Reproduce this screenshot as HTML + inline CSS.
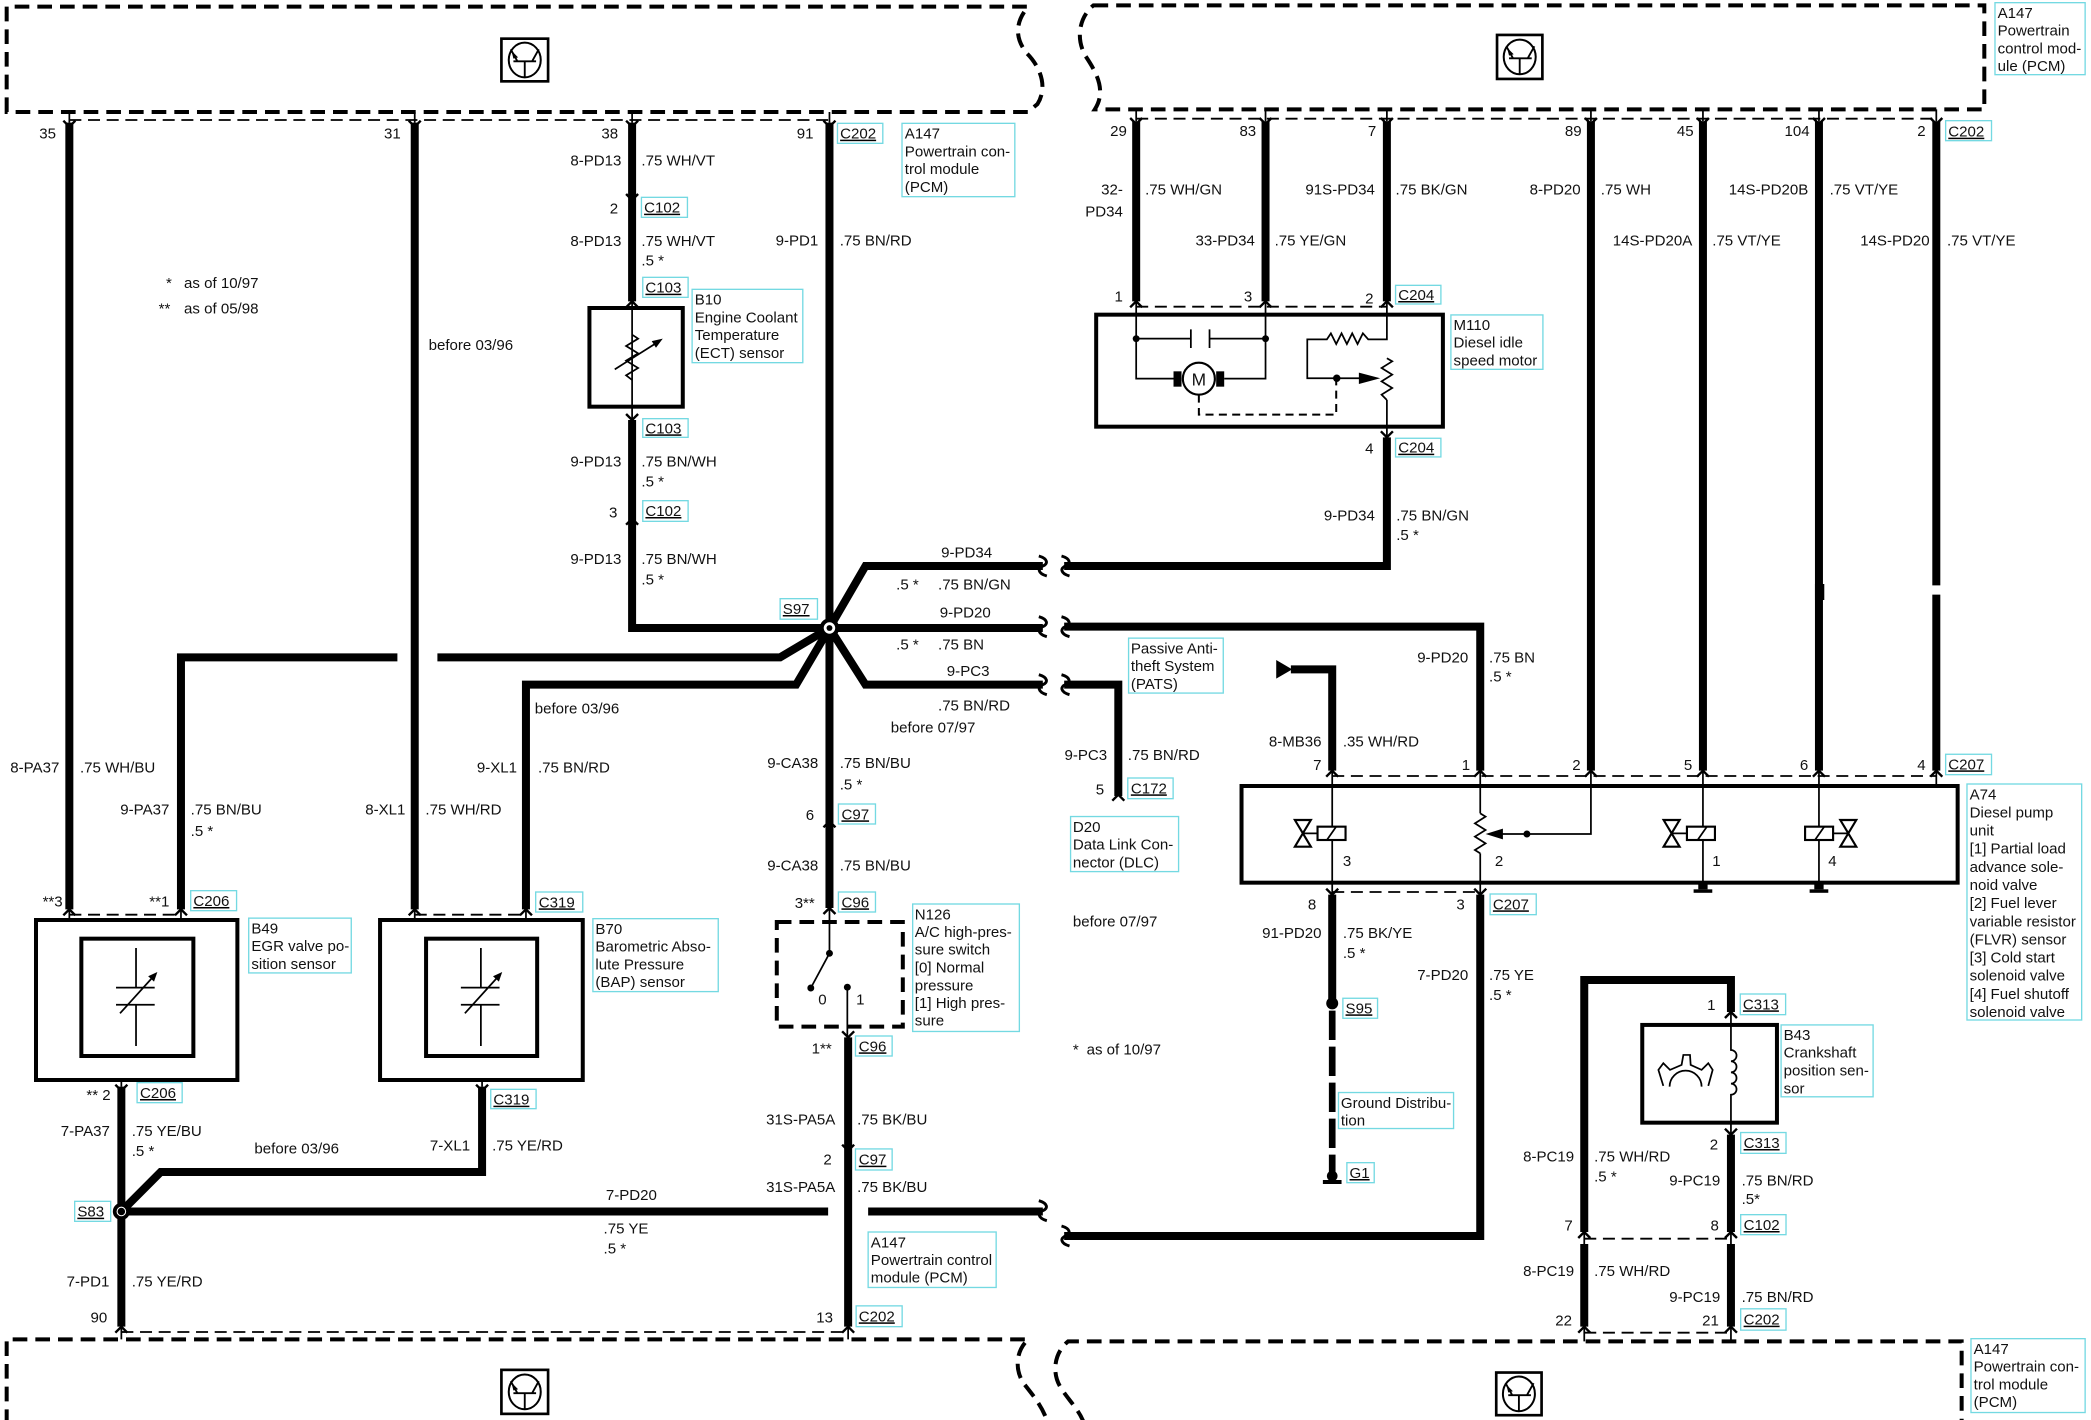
<!DOCTYPE html>
<html><head><meta charset="utf-8">
<style>
html,body{margin:0;padding:0;background:#fff;}
svg{display:block;}
text{font-family:"Liberation Sans",Arial,sans-serif;font-size:11.3px;fill:#111;}
.e{text-anchor:end;}
.u{text-decoration:underline;}
.w{stroke:#000;stroke-width:6;fill:none;}
.t{stroke:#000;stroke-width:1.3;fill:none;}
.bx{stroke:#000;stroke-width:3;fill:none;}
.dsh{stroke:#000;stroke-width:3;fill:none;stroke-dasharray:11 6;}
.thd{stroke:#000;stroke-width:1.4;fill:none;stroke-dasharray:9 5;}
.lb{stroke:#74d9e2;stroke-width:1;fill:none;}
.ch{stroke:#000;stroke-width:1.8;fill:none;}
.br{stroke:#000;stroke-width:2.2;fill:none;}
.f{fill:#000;stroke:none;}
.tw{stroke:#000;stroke-width:1.6;fill:#fff;}
</style></head><body>
<svg width="2091" height="1420" viewBox="0 0 1568 1065" preserveAspectRatio="none" xmlns="http://www.w3.org/2000/svg">
<rect x="0" y="0" width="1568" height="1065" fill="#fff"/>

<!-- PCM module boxes -->
<path class="dsh" d="M5,84 L5,5 L771,5 C760,18 762,30 770,40 C780,50 786,65 778,78 L771,84 Z"/>
<path class="dsh" d="M820,4 L1488,4 L1488,82 L821,82 C830,68 822,54 814,42 C806,28 810,12 820,4 Z"/>
<path class="dsh" d="M5,1068 L5,1004.5 L771,1004.5 C760,1015 762,1030 768,1038 C775,1047 782,1055 786,1068"/>
<path class="dsh" d="M813,1068 C810,1058 801,1050 795,1040 C789,1030 790,1015 801,1006 L1471,1006 L1471,1068"/>

<!-- thin dashed connector lines -->
<path class="thd" d="M52,90 H622"/>
<path class="thd" d="M852,89 H1452"/>
<path class="thd" d="M91,999 H636"/>
<path class="thd" d="M1188,999.5 H1298"/>
<path class="thd" d="M52,686 H136"/>
<path class="thd" d="M311,686 H394"/>
<path class="thd" d="M852,230 H1040"/>
<path class="thd" d="M999,582 H1452"/>
<path class="thd" d="M999,669 H1110"/>
<path class="thd" d="M1188,929 H1298"/>

<!-- transistor icons -->
<g transform="translate(376,29)">
<rect x="0" y="0" width="35" height="32" stroke="#000" stroke-width="2" fill="none"/>
<ellipse cx="17.5" cy="16" rx="12" ry="13" stroke="#000" stroke-width="1.5" fill="none"/>
<path d="M9,17 H26 M17.5,17 V29 M12,17 L7,8 M23,17 L28,8" stroke="#000" stroke-width="1.4" fill="none"/>
<path d="M7.5,9 L12.5,14 L9,15 Z" fill="#000"/>
</g>
<g transform="translate(1122.6,26.2)">
<rect x="0" y="0" width="34" height="33" stroke="#000" stroke-width="2" fill="none"/>
<ellipse cx="17" cy="16.5" rx="12" ry="13" stroke="#000" stroke-width="1.5" fill="none"/>
<path d="M9,17.5 H26 M17,17.5 V29.5 M12,17.5 L7,8.5 M23,17.5 L28,8.5" stroke="#000" stroke-width="1.4" fill="none"/>
<path d="M7.5,9.5 L12.5,14.5 L9,15.5 Z" fill="#000"/>
</g>
<g transform="translate(376,1027.4)">
<rect x="0" y="0" width="35" height="33" stroke="#000" stroke-width="2" fill="none"/>
<ellipse cx="17.5" cy="16.5" rx="12" ry="13" stroke="#000" stroke-width="1.5" fill="none"/>
<path d="M9,17.5 H26 M17.5,17.5 V29.5 M12,17.5 L7,8.5 M23,17.5 L28,8.5" stroke="#000" stroke-width="1.4" fill="none"/>
<path d="M7.5,9.5 L12.5,14.5 L9,15.5 Z" fill="#000"/>
</g>
<g transform="translate(1122,1029.4)">
<rect x="0" y="0" width="34" height="32" stroke="#000" stroke-width="2" fill="none"/>
<ellipse cx="17" cy="16" rx="12" ry="13" stroke="#000" stroke-width="1.5" fill="none"/>
<path d="M9,17 H26 M17,17 V29 M12,17 L7,8 M23,17 L28,8" stroke="#000" stroke-width="1.4" fill="none"/>
<path d="M7.5,9 L12.5,14 L9,15 Z" fill="#000"/>
</g>

<!-- thin stubs to module edges -->
<path class="t" d="M52,84 V92 M311,84 V92 M474,84 V92 M622,84 V92 M852,82 V91 M949,82 V91 M1040,82 V91 M1193,82 V91 M1277,82 V91 M1364,82 V91 M1452,82 V91 M91,995 V1004.5 M636,995 V1004.5 M1188,995 V1006 M1298,995 V1006"/>

<!-- ===== LEFT WIRES ===== -->
<path class="w" d="M52,92 V682"/>
<path class="t" d="M52,682 V690 M135.7,682 V690 M311,682 V690 M394.4,682 V690"/>
<path class="w" d="M311,92 V682"/>
<path class="w" d="M474,92 V226"/>
<path class="t" d="M474,226 V315"/>
<path class="w" d="M474,315 V471 H622"/>
<path class="w" d="M622,92 V681"/>
<path class="t" d="M622,681 V715"/>

<!-- S97 branches -->
<path class="w" d="M622,471 L649,424.5 H782"/>
<path class="w" d="M622,471 H782"/>
<path class="w" d="M622,471 L649,513.5 H782"/>
<path class="w" d="M622,471 L585,493 H328"/>
<path class="w" d="M298,493 H135.7 V682"/>
<path class="w" d="M622,471 L597,513.5 H394.4 V682"/>

<!-- break symbols -->
<path class="br" d="M779,417 C786,419 786,423 782,424.5 C778,426 778,430 785,432"/>
<path class="br" d="M796,417 C803,419 803,423 799,424.5 C795,426 795,430 802,432"/>
<path class="br" d="M779,462.5 C786,464.5 786,468.5 782,470 C778,471.5 778,475.5 785,477.5"/>
<path class="br" d="M796,462.5 C803,464.5 803,468.5 799,470 C795,471.5 795,475.5 802,477.5"/>
<path class="br" d="M779,506 C786,508 786,512 782,513.5 C778,515 778,519 785,521"/>
<path class="br" d="M796,506 C803,508 803,512 799,513.5 C795,515 795,519 802,521"/>
<path class="br" d="M779,900.5 C786,902.5 786,906.5 782,908 C778,909.5 778,913.5 785,915.5"/>
<path class="br" d="M796,919.5 C803,921.5 803,925.5 799,927 C795,928.5 795,932.5 802,934.5"/>

<!-- right side of breaks -->
<path class="w" d="M798,424.5 H1040 V328"/>
<path class="t" d="M1040,300 V328"/>
<path class="w" d="M798,470 H1110 V578"/>
<path class="w" d="M798,513.5 H838.6 V597"/>
<path class="w" d="M798,927 H1110 V671"/>

<!-- S97 splice -->
<circle cx="622" cy="471" r="5.8" fill="#fff" stroke="#000" stroke-width="3"/>
<circle cx="622" cy="471" r="2.2" class="f"/>

<!-- N126 switch -->
<rect x="582.5" y="691.5" width="94.5" height="78.5" class="dsh"/>
<circle cx="622" cy="715" r="2.6" class="f"/>
<path class="t" d="M622,715 L608,741" stroke-width="1.6"/>
<circle cx="608" cy="741" r="2.6" class="f"/>
<circle cx="635.4" cy="740.4" r="2.6" class="f"/>
<path class="t" d="M635.4,740.4 V779"/>
<path class="w" d="M636,778 V995"/>

<!-- S83 area -->
<path class="w" d="M91,815 V995"/>
<path class="w" d="M361.5,815 V879 H120.5 L91,908.6"/>
<path class="w" d="M91,908.6 H621"/>
<path class="w" d="M651,908.6 H782"/>
<path class="t" d="M91,810 V815 M361.5,810 V815"/>
<circle cx="91" cy="908.6" r="5" fill="#fff" stroke="#000" stroke-width="2.8"/>
<circle cx="91" cy="908.6" r="2.8" class="f"/>

<!-- B10 -->
<rect x="442" y="231" width="70" height="74" class="bx"/>
<polyline class="t" points="474,251 478.5,254 469.5,259.5 478.5,265 469.5,270.5 478.5,276 469.5,281.5 474,285" fill="#fff" stroke-width="1.6"/>
<path class="t" d="M461,277 L491,258" stroke-width="1.6"/>
<path d="M497,254 L491.9,260.8 L488.7,255.8 Z" class="f"/>

<!-- B49 -->
<rect x="27" y="690" width="151" height="120" class="bx"/>
<rect x="61" y="704" width="84" height="88" class="bx"/>
<path class="t" d="M102,711 V740.7 M102,753.6 V784.5 M87,740.7 H116 M87,753.6 H116" stroke-width="1.8"/>
<path class="t" d="M90,760 L114,733.5" stroke-width="1.8"/>
<path d="M118,729 L115.5,736.2 L111.1,732.2 Z" class="f"/>
<!-- B70 -->
<rect x="285" y="690" width="152" height="120" class="bx"/>
<rect x="319.5" y="704" width="83.3" height="88" class="bx"/>
<path class="t" d="M360.6,711 V740.7 M360.6,753.6 V784.5 M345.6,740.7 H374.6 M345.6,753.6 H374.6" stroke-width="1.8"/>
<path class="t" d="M348.6,760 L372.6,733.5" stroke-width="1.8"/>
<path d="M376.6,729 L374.1,736.2 L369.7,732.2 Z" class="f"/>

<!-- ===== M110 ===== -->
<path class="w" d="M852,91 V226"/>
<path class="w" d="M949,91 V226"/>
<path class="w" d="M1040,91 V226"/>
<rect x="822" y="236" width="260" height="84" class="bx"/>
<path class="t" d="M852,226 V284 H881 M949,226 V284 H918 M852,254 H893 M907,254 H949" stroke-width="1.4"/>
<path class="t" d="M893,247 V261 M907,247 V261" stroke-width="2"/>
<circle cx="852" cy="254" r="2.6" class="f"/>
<circle cx="949" cy="254" r="2.6" class="f"/>
<circle cx="899" cy="284" r="12" fill="#fff" stroke="#000" stroke-width="1.6"/>
<rect x="880" y="278.5" width="6" height="11.5" class="f"/>
<rect x="912" y="278.5" width="6" height="11.5" class="f"/>
<text x="899" y="289" text-anchor="middle" style="font-size:13px">M</text>
<path d="M899,296 V311 H1002 V284" stroke="#000" stroke-width="1.5" fill="none" stroke-dasharray="6 4"/>
<path class="t" d="M1040,226 V254.5 H1026 L1022,250 L1018,258 L1014,250 L1010,258 L1006,250 L1002,258 L998,250 L995,254.5 H980.3 V283.7 H1020" stroke-width="1.4"/>
<path d="M1035,283.7 L1019,279.5 L1019,288 Z" class="f"/>
<circle cx="1002.4" cy="283.7" r="2.8" class="f"/>
<polyline class="t" stroke-width="1.4" points="1040,268.7 1044,271 1036,276 1044,281 1036,286 1044,291 1036,296 1040,300"/>

<!-- right wires to A74 -->
<path class="w" d="M1193,91 V578"/>
<path class="w" d="M1277,91 V578"/>
<path class="w" d="M1364,91 V578"/>
<rect x="1361" y="438" width="7" height="12" class="f"/>
<path class="w" d="M1452,91 V439 M1452,446 V578"/>
<path class="w" d="M999,578 V502 H968"/>
<path d="M957,495 L957,509 L969,502 Z" class="f"/>

<!-- A74 -->
<rect x="931" y="589.5" width="537" height="72.5" class="bx"/>
<path class="t" d="M999,578 V671 M1110,578 V610 M1110,640 V671 M1193,578 V625.5 H1126 M1277,578 V666 M1364,578 V666 M1452,578 V589.5" stroke-width="1.4"/>
<polyline class="t" stroke-width="1.4" points="1110,610 1114,612.5 1106,617.5 1114,622.5 1106,627.5 1114,632.5 1106,637.5 1110,640"/>
<path d="M1114,625.5 L1127,621.5 L1127,629.5 Z" class="f"/>
<circle cx="1145" cy="625.5" r="2.6" class="f"/>
<!-- solenoid 3 -->
<path class="t" d="M977,625 H988 M1253.5,625 H1265 M1374,625 H1386" stroke-width="1.4"/>
<rect x="988" y="620" width="21" height="10" class="tw" stroke-width="2"/>
<path class="t" d="M995,630 L1002,620" stroke-width="1.5"/>
<path class="tw" d="M971,615 H983 L977,625 Z M971,635 H983 L977,625 Z"/>
<!-- solenoid 1 -->
<rect x="1265" y="620" width="21" height="10" class="tw" stroke-width="2"/>
<path class="t" d="M1273,630 L1280,620" stroke-width="1.5"/>
<path class="tw" d="M1247.5,615 H1259.5 L1253.5,625 Z M1247.5,635 H1259.5 L1253.5,625 Z"/>
<!-- solenoid 4 -->
<rect x="1353.6" y="620" width="21" height="10" class="tw" stroke-width="2"/>
<path class="t" d="M1361,630 L1368,620" stroke-width="1.5"/>
<path class="tw" d="M1380,615 H1392 L1386,625 Z M1380,635 H1392 L1386,625 Z"/>
<!-- grounds -->
<rect x="1273.5" y="663" width="7" height="4" class="f"/>
<rect x="1270" y="667" width="14" height="2.6" class="f"/>
<rect x="1360.5" y="663" width="7" height="4" class="f"/>
<rect x="1357" y="667" width="14" height="2.6" class="f"/>

<!-- below A74 -->
<path class="w" d="M999,671 V752"/>
<circle cx="999" cy="752.5" r="4.5" class="f"/>
<path d="M999,758 V880" stroke="#000" stroke-width="5" fill="none" stroke-dasharray="22 5"/>
<circle cx="999" cy="882" r="4" class="f"/>
<rect x="992" y="885" width="14" height="3" class="f"/>

<!-- B43 -->
<path class="w" d="M1188,924 V735 H1298 V759"/>
<path class="w" d="M1188,933 V995"/>
<path class="w" d="M1298,851 V924"/>
<path class="w" d="M1298,933 V995"/>
<path class="t" d="M1188,924 V933 M1298,924 V933"/>
<rect x="1231.5" y="768.7" width="101" height="73.3" class="bx"/>
<path class="t" stroke-width="1.5" d="M1298,759 V787.5 a4.2,4.2 0 0 1 0,8.4 a4.2,4.2 0 0 1 0,8.4 a4.2,4.2 0 0 1 0,8.4 a4.2,4.2 0 0 1 0,8.4 V851"/>
<path class="t" stroke-width="1.6" d="M1247.3,814.4 L1243.6,802.4 L1247.3,797.4 L1252.3,802.4 L1261,798.7 L1262.3,791.2 L1267.3,791.2 L1267.8,798.7 L1276,802.4 L1281,797.4 L1284.3,802.4 L1281,814.4 M1252,815 A12,12 0 0 1 1276,815"/>

<!-- chevrons -->
<path class="ch" d="
M47.5,90.5 L52,95 L56.5,90.5
M306.5,90.5 L311,95 L315.5,90.5
M469.5,90.5 L474,95 L478.5,90.5
M617.5,90.5 L622,95 L626.5,90.5
M847.5,88.5 L852,93 L856.5,88.5
M944.5,88.5 L949,93 L953.5,88.5
M1035.5,88.5 L1040,93 L1044.5,88.5
M1188.5,88.5 L1193,93 L1197.5,88.5
M1272.5,88.5 L1277,93 L1281.5,88.5
M1359.5,88.5 L1364,93 L1368.5,88.5
M1447.5,88.5 L1452,93 L1456.5,88.5
M469.5,145.5 L474,150 L478.5,145.5
M469.5,230.5 L474,226 L478.5,230.5
M469.5,310.5 L474,315 L478.5,310.5
M469.5,393.5 L474,389 L478.5,393.5
M617.5,620.5 L622,616 L626.5,620.5
M617.5,685.5 L622,681 L626.5,685.5
M631.5,773.5 L636,778 L640.5,773.5
M631.5,858.5 L636,863 L640.5,858.5
M631.5,999.5 L636,995 L640.5,999.5
M47.5,686.5 L52,682 L56.5,686.5
M131.2,686.5 L135.7,682 L140.2,686.5
M306.5,686.5 L311,682 L315.5,686.5
M389.9,686.5 L394.4,682 L398.9,686.5
M86.5,813.5 L91,818 L95.5,813.5
M357,813.5 L361.5,818 L366,813.5
M86.5,999.5 L91,995 L95.5,999.5
M847.5,230.5 L852,226 L856.5,230.5
M944.5,230.5 L949,226 L953.5,230.5
M1035.5,230.5 L1040,226 L1044.5,230.5
M1035.5,323.5 L1040,328 L1044.5,323.5
M994.5,582.5 L999,578 L1003.5,582.5
M1105.5,582.5 L1110,578 L1114.5,582.5
M1188.5,582.5 L1193,578 L1197.5,582.5
M1272.5,582.5 L1277,578 L1281.5,582.5
M1359.5,582.5 L1364,578 L1368.5,582.5
M1447.5,582.5 L1452,578 L1456.5,582.5
M994.5,666.5 L999,671 L1003.5,666.5
M1105.5,666.5 L1110,671 L1114.5,666.5
M834.1,600.5 L838.6,596 L843.1,600.5
M1293.5,763.5 L1298,759 L1302.5,763.5
M1293.5,846.5 L1298,851 L1302.5,846.5
M1183.5,928.5 L1188,924 L1192.5,928.5
M1293.5,928.5 L1298,924 L1302.5,928.5
M1183.5,999.5 L1188,995 L1192.5,999.5
M1293.5,999.5 L1298,995 L1302.5,999.5
"/>

<!-- ===== LABEL BOXES ===== -->
<g class="lb">
<rect x="628" y="92.5" width="34" height="15"/>
<rect x="1459" y="90.5" width="34.4" height="15"/>
<rect x="481" y="148" width="34.5" height="15"/>
<rect x="482" y="208" width="34" height="15"/>
<rect x="482" y="314" width="34" height="14"/>
<rect x="482" y="375.5" width="34" height="15.5"/>
<rect x="143" y="668" width="34.4" height="15"/>
<rect x="401.7" y="669" width="35.3" height="15"/>
<rect x="585" y="449" width="28" height="15.4"/>
<rect x="628.7" y="603" width="27.8" height="15"/>
<rect x="628.7" y="669" width="27.8" height="15"/>
<rect x="641.5" y="777" width="27.5" height="15"/>
<rect x="641.5" y="861.7" width="27.5" height="15.8"/>
<rect x="642" y="979.4" width="34.5" height="15.6"/>
<rect x="102.8" y="812" width="33.8" height="15"/>
<rect x="368" y="817" width="34" height="14.5"/>
<rect x="56" y="901" width="27" height="15"/>
<rect x="1046.5" y="214" width="34" height="14"/>
<rect x="1046.5" y="328.7" width="34" height="14"/>
<rect x="845.7" y="583.5" width="34" height="15.5"/>
<rect x="1459" y="565.7" width="34.4" height="15.3"/>
<rect x="1117.4" y="670.5" width="34.6" height="15.5"/>
<rect x="1007" y="748.7" width="26" height="15"/>
<rect x="1010" y="872" width="20.5" height="15"/>
<rect x="1305" y="745.5" width="34" height="15.5"/>
<rect x="1305.3" y="849.4" width="34" height="15.6"/>
<rect x="1305.3" y="911" width="34" height="15"/>
<rect x="1305.3" y="981.6" width="34" height="16"/>
<!-- description boxes -->
<rect x="676.4" y="92.5" width="84.6" height="55"/>
<rect x="1496" y="2" width="67.6" height="54"/>
<rect x="519" y="217" width="83" height="55"/>
<rect x="1088" y="236.2" width="69" height="40.8"/>
<rect x="186.5" y="688.6" width="76.9" height="41.1"/>
<rect x="444.6" y="689" width="94" height="54.7"/>
<rect x="846.3" y="478.6" width="71" height="41.2"/>
<rect x="802.8" y="612.4" width="81" height="41.3"/>
<rect x="684.4" y="678" width="80" height="95.6"/>
<rect x="651" y="924" width="96" height="41.6"/>
<rect x="1475" y="588" width="86" height="177"/>
<rect x="1003.7" y="819.4" width="86.3" height="27"/>
<rect x="1335.6" y="768.7" width="69" height="53.9"/>
<rect x="1478" y="1004" width="85.6" height="55.4"/>
</g>

<!-- connector texts -->
<g class="u">
<text x="630" y="104">C202</text>
<text x="1461" y="102.5">C202</text>
<text x="483" y="159.5">C102</text>
<text x="484" y="219.5">C103</text>
<text x="484" y="325">C103</text>
<text x="484" y="387">C102</text>
<text x="145" y="679.5">C206</text>
<text x="404" y="680.5">C319</text>
<text x="587" y="460.5">S97</text>
<text x="631" y="614.5">C97</text>
<text x="631" y="680.5">C96</text>
<text x="644" y="788.5">C96</text>
<text x="644" y="873.5">C97</text>
<text x="644" y="991">C202</text>
<text x="105" y="823.5">C206</text>
<text x="370" y="828.5">C319</text>
<text x="58" y="912.5">S83</text>
<text x="1048.5" y="225">C204</text>
<text x="1048.5" y="339.5">C204</text>
<text x="848" y="595">C172</text>
<text x="1461" y="577">C207</text>
<text x="1119.5" y="682">C207</text>
<text x="1009" y="760">S95</text>
<text x="1012" y="883.5">G1</text>
<text x="1307" y="757">C313</text>
<text x="1307.5" y="861">C313</text>
<text x="1307.5" y="922.5">C102</text>
<text x="1307.5" y="993.5">C202</text>
</g>

<!-- description texts -->
<text x="678.5" y="104">A147</text>
<text x="678.5" y="117.3">Powertrain con-</text>
<text x="678.5" y="130.6">trol module</text>
<text x="678.5" y="144">(PCM)</text>

<text x="1498" y="13.5">A147</text>
<text x="1498" y="26.8">Powertrain</text>
<text x="1498" y="40">control mod-</text>
<text x="1498" y="53.4">ule (PCM)</text>

<text x="521" y="228.5">B10</text>
<text x="521" y="241.8">Engine Coolant</text>
<text x="521" y="255">Temperature</text>
<text x="521" y="268.4">(ECT) sensor</text>

<text x="1090" y="247.5">M110</text>
<text x="1090" y="260.8">Diesel idle</text>
<text x="1090" y="274">speed motor</text>

<text x="188.5" y="700">B49</text>
<text x="188.5" y="713.3">EGR valve po-</text>
<text x="188.5" y="726.6">sition sensor</text>

<text x="446.5" y="700.5">B70</text>
<text x="446.5" y="713.8">Barometric Abso-</text>
<text x="446.5" y="727">lute Pressure</text>
<text x="446.5" y="740.4">(BAP) sensor</text>

<text x="848" y="490">Passive Anti-</text>
<text x="848" y="503.3">theft System</text>
<text x="848" y="516.6">(PATS)</text>

<text x="804.5" y="624">D20</text>
<text x="804.5" y="637.2">Data Link Con-</text>
<text x="804.5" y="650.5">nector (DLC)</text>

<text x="686" y="689.5">N126</text>
<text x="686" y="702.8">A/C high-pres-</text>
<text x="686" y="716">sure switch</text>
<text x="686" y="729.4">[0] Normal</text>
<text x="686" y="742.7">pressure</text>
<text x="686" y="756">[1] High pres-</text>
<text x="686" y="769.3">sure</text>

<text x="653" y="935.5">A147</text>
<text x="653" y="948.8">Powertrain control</text>
<text x="653" y="962">module (PCM)</text>

<text x="1477" y="599.5">A74</text>
<text x="1477" y="613.1">Diesel pump</text>
<text x="1477" y="626.7">unit</text>
<text x="1477" y="640.3">[1] Partial load</text>
<text x="1477" y="653.9">advance sole-</text>
<text x="1477" y="667.5">noid valve</text>
<text x="1477" y="681.1">[2] Fuel lever</text>
<text x="1477" y="694.7">variable resistor</text>
<text x="1477" y="708.3">(FLVR) sensor</text>
<text x="1477" y="721.9">[3] Cold start</text>
<text x="1477" y="735.5">solenoid valve</text>
<text x="1477" y="749.1">[4] Fuel shutoff</text>
<text x="1477" y="762.7">solenoid valve</text>

<text x="1005.5" y="831">Ground Distribu-</text>
<text x="1005.5" y="844">tion</text>

<text x="1337.5" y="780">B43</text>
<text x="1337.5" y="793.3">Crankshaft</text>
<text x="1337.5" y="806.6">position sen-</text>
<text x="1337.5" y="820">sor</text>

<text x="1480" y="1015.5">A147</text>
<text x="1480" y="1028.8">Powertrain con-</text>
<text x="1480" y="1042">trol module</text>
<text x="1480" y="1055.4">(PCM)</text>

<!-- pin numbers top -->
<text class="e" x="42" y="104">35</text>
<text class="e" x="300.5" y="104">31</text>
<text class="e" x="463.5" y="104">38</text>
<text class="e" x="610" y="104">91</text>
<text class="e" x="845" y="102">29</text>
<text class="e" x="942" y="102">83</text>
<text class="e" x="1032" y="102">7</text>
<text class="e" x="1186" y="102">89</text>
<text class="e" x="1270" y="102">45</text>
<text class="e" x="1357" y="102">104</text>
<text class="e" x="1444" y="102">2</text>

<!-- wire 38 labels -->
<text class="e" x="466" y="124">8-PD13</text>
<text x="481" y="124">.75 WH/VT</text>
<text class="e" x="463.5" y="160">2</text>
<text class="e" x="466" y="184.5">8-PD13</text>
<text x="481" y="184.5">.75 WH/VT</text>
<text x="481" y="199">.5 *</text>
<text class="e" x="466" y="350">9-PD13</text>
<text x="481" y="350">.75 BN/WH</text>
<text x="481" y="365">.5 *</text>
<text class="e" x="463" y="388">3</text>
<text class="e" x="466" y="423">9-PD13</text>
<text x="481" y="423">.75 BN/WH</text>
<text x="481" y="438.5">.5 *</text>
<text class="e" x="613.6" y="184">9-PD1</text>
<text x="629.7" y="184">.75 BN/RD</text>

<!-- notes -->
<text x="124.5" y="216">*</text>
<text x="138" y="216">as of 10/97</text>
<text x="119" y="235">**</text>
<text x="138" y="235">as of 05/98</text>
<text x="321.4" y="262.5">before 03/96</text>

<!-- M110 labels -->
<text class="e" x="842" y="146">32-</text>
<text class="e" x="842" y="162.5">PD34</text>
<text x="858.7" y="146">.75 WH/GN</text>
<text class="e" x="1031" y="146">91S-PD34</text>
<text x="1046.5" y="146">.75 BK/GN</text>
<text class="e" x="941" y="184">33-PD34</text>
<text x="955.8" y="184">.75 YE/GN</text>
<text class="e" x="1185.3" y="146">8-PD20</text>
<text x="1200.4" y="146">.75 WH</text>
<text class="e" x="1269" y="184">14S-PD20A</text>
<text x="1284" y="184">.75 VT/YE</text>
<text class="e" x="1356" y="146">14S-PD20B</text>
<text x="1372" y="146">.75 VT/YE</text>
<text class="e" x="1447" y="184">14S-PD20</text>
<text x="1460" y="184">.75 VT/YE</text>
<text class="e" x="842" y="226">1</text>
<text class="e" x="939" y="226">3</text>
<text class="e" x="1030" y="227.5">2</text>
<text class="e" x="1030" y="340">4</text>
<text class="e" x="1031" y="390.5">9-PD34</text>
<text x="1047" y="390.5">.75 BN/GN</text>
<text x="1047" y="405">.5 *</text>

<!-- left labels -->
<text class="e" x="44.5" y="579.5">8-PA37</text>
<text x="60" y="579.5">.75 WH/BU</text>
<text class="e" x="127" y="610.7">9-PA37</text>
<text x="143" y="610.7">.75 BN/BU</text>
<text x="143" y="627">.5 *</text>
<text class="e" x="304" y="610.7">8-XL1</text>
<text x="319" y="610.7">.75 WH/RD</text>
<text class="e" x="387.7" y="579.5">9-XL1</text>
<text x="403.4" y="579.5">.75 BN/RD</text>
<text x="401" y="535">before 03/96</text>
<text class="e" x="47" y="680">**3</text>
<text class="e" x="127" y="680">**1</text>

<!-- lower left labels -->
<text class="e" x="83" y="825">** 2</text>
<text class="e" x="82.4" y="852">7-PA37</text>
<text x="98.8" y="852">.75 YE/BU</text>
<text x="98.8" y="867">.5 *</text>
<text x="190.8" y="865">before 03/96</text>
<text class="e" x="352.5" y="863">7-XL1</text>
<text x="369" y="863">.75 YE/RD</text>
<text x="454.3" y="900">7-PD20</text>
<text x="452.6" y="925">.75 YE</text>
<text x="452.6" y="940">.5 *</text>
<text class="e" x="82" y="965">7-PD1</text>
<text x="98.8" y="965">.75 YE/RD</text>
<text class="e" x="80.4" y="992">90</text>

<!-- middle labels -->
<text x="705.7" y="418">9-PD34</text>
<text x="672" y="442">.5 *</text>
<text x="703.4" y="442">.75 BN/GN</text>
<text x="704.7" y="463">9-PD20</text>
<text x="672" y="487">.5 *</text>
<text x="703.4" y="487">.75 BN</text>
<text x="710" y="507">9-PC3</text>
<text x="703.4" y="533">.75 BN/RD</text>
<text x="668" y="549.5">before 07/97</text>
<text class="e" x="613.6" y="576">9-CA38</text>
<text x="629.7" y="576">.75 BN/BU</text>
<text x="629.7" y="592">.5 *</text>
<text class="e" x="610.5" y="615">6</text>
<text class="e" x="613.6" y="653">9-CA38</text>
<text x="629.7" y="653">.75 BN/BU</text>
<text class="e" x="611" y="681">3**</text>
<text x="613.6" y="753.5">0</text>
<text x="642" y="753.5">1</text>
<text class="e" x="623.7" y="790">1**</text>
<text class="e" x="626.4" y="843.5">31S-PA5A</text>
<text x="642.7" y="843.5">.75 BK/BU</text>
<text class="e" x="623.7" y="873.5">2</text>
<text class="e" x="626.4" y="894">31S-PA5A</text>
<text x="642.7" y="894">.75 BK/BU</text>
<text class="e" x="624.7" y="992">13</text>
<text class="e" x="830.2" y="570">9-PC3</text>
<text x="845.7" y="570">.75 BN/RD</text>
<text class="e" x="828" y="596">5</text>
<text x="804.5" y="695">before 07/97</text>
<text x="804.5" y="791">*</text>
<text x="814.8" y="791">as of 10/97</text>

<!-- A74 labels -->
<text class="e" x="1101" y="497">9-PD20</text>
<text x="1116.6" y="497">.75 BN</text>
<text x="1116.6" y="511">.5 *</text>
<text class="e" x="991" y="560">8-MB36</text>
<text x="1007" y="560">.35 WH/RD</text>
<text class="e" x="991" y="577.5">7</text>
<text class="e" x="1102.4" y="577.5">1</text>
<text class="e" x="1185.3" y="577.5">2</text>
<text class="e" x="1269" y="577.5">5</text>
<text class="e" x="1356" y="577.5">6</text>
<text class="e" x="1444" y="577.5">4</text>
<text x="1007" y="649.5">3</text>
<text x="1121" y="649.5">2</text>
<text x="1284" y="649.5">1</text>
<text x="1371" y="649.5">4</text>
<text class="e" x="987" y="682">8</text>
<text class="e" x="1098.4" y="682">3</text>
<text class="e" x="991" y="703.5">91-PD20</text>
<text x="1007" y="703.5">.75 BK/YE</text>
<text x="1007" y="718.5">.5 *</text>
<text class="e" x="1101" y="735">7-PD20</text>
<text x="1116.6" y="735">.75 YE</text>
<text x="1116.6" y="750">.5 *</text>

<!-- B43 labels -->
<text class="e" x="1286.4" y="757.5">1</text>
<text class="e" x="1288.4" y="862">2</text>
<text class="e" x="1180.4" y="871">8-PC19</text>
<text x="1195.4" y="871">.75 WH/RD</text>
<text x="1195.4" y="886">.5 *</text>
<text class="e" x="1290" y="889">9-PC19</text>
<text x="1306" y="889">.75 BN/RD</text>
<text x="1306" y="903">.5*</text>
<text class="e" x="1179.4" y="923">7</text>
<text class="e" x="1289" y="923">8</text>
<text class="e" x="1180.4" y="957">8-PC19</text>
<text x="1195.4" y="957">.75 WH/RD</text>
<text class="e" x="1290" y="976.5">9-PC19</text>
<text x="1306" y="976.5">.75 BN/RD</text>
<text class="e" x="1178.8" y="994">22</text>
<text class="e" x="1289" y="994">21</text>
</svg>
</body></html>
